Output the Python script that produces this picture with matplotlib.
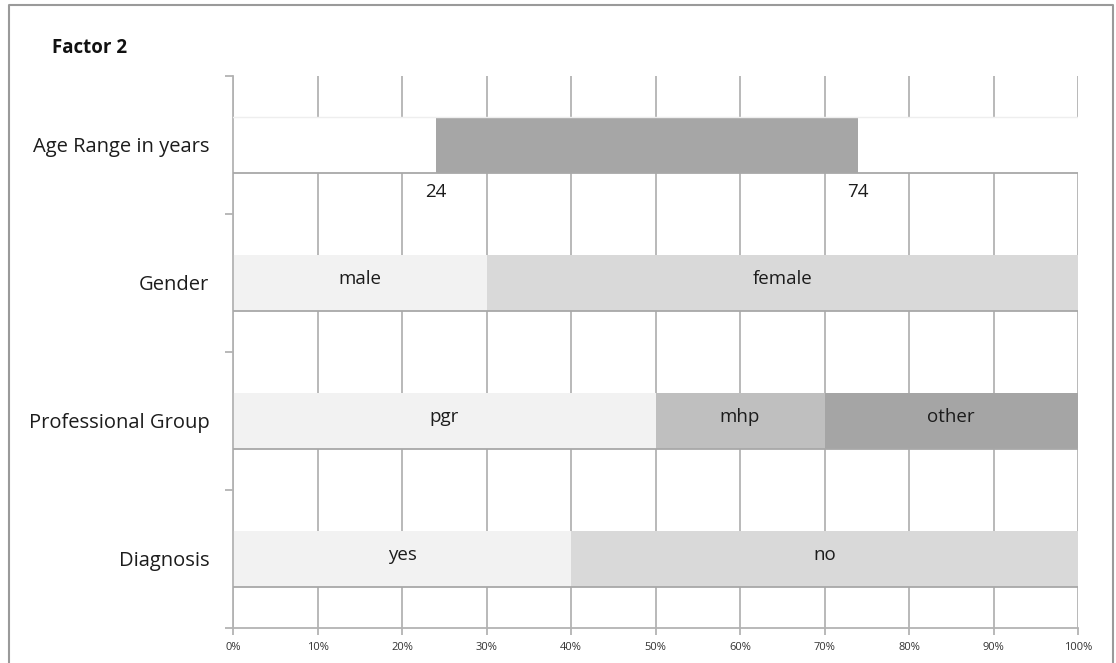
import numpy as np
import matplotlib.pyplot as plt
from matplotlib.lines import Line2D

plt.rcParams['font.family'] = ['Open Sans', 'DejaVu Sans']

categories = ['Age Range in years', 'Gender', 'Professional Group', 'Diagnosis']
age_range = [24, 74]
gender_labels = ['male', 'female']
gender_values = [30, 70]
prof_labels = ['pgr', 'mhp', 'other']
prof_values = [50, 20, 30]
diag_labels = ['yes', 'no']
diag_values = [40, 60]

shade = {'male': '#f2f2f2', 'female': '#d9d9d9', 'pgr': '#f2f2f2', 'mhp': '#bfbfbf',
         'other': '#a5a5a5', 'yes': '#f2f2f2', 'no': '#d9d9d9'}

fig = plt.figure(figsize=(11.16, 6.63), dpi=100)
ax = fig.add_axes([0.2088, 0.0528, 0.7572, 0.8326])

ypos = [3.5, 2.5, 1.5, 0.5]
h = 0.4
grey = '#b3b3b3'
ink = '#1c1c1c'

ax.set_xlim(0, 100)
ax.set_ylim(0, 4)
ax.set_xticks(np.arange(0, 101, 10))
ax.set_xticklabels([f'{v}%' for v in range(0, 101, 10)], fontsize=8, color='#333333')
ax.grid(axis='x', color=grey, lw=1.3)
ax.set_axisbelow(True)

# stacked segments with labels
def stacked(y, labels, values):
    left = 0
    for lab, v in zip(labels, values):
        ax.barh(y, v, left=left, height=h, color=shade[lab], zorder=2)
        ax.text(left + v / 2, y + 0.03, lab, ha='center', va='center', fontsize=13.5, color=ink, zorder=4)
        left += v
    ax.plot([0, 100], [y - h / 2, y - h / 2], color='#a8a8a8', lw=1.3, zorder=3)

# age range row: white filler around the grey span
ay = ypos[0]
ax.barh(ay, 100, height=h, color='white', zorder=2)
ax.barh(ay, age_range[1] - age_range[0], left=age_range[0], height=h, color='#a6a6a6', zorder=2)
ax.plot([0, 100], [ay + h / 2, ay + h / 2], color='#eeeeee', lw=1, zorder=3)
ax.plot([0, 100], [ay - h / 2, ay - h / 2], color='#a8a8a8', lw=1.3, zorder=3)
for v in age_range:
    ax.text(v, ay - h / 2 - 0.14, str(v), ha='center', va='center', fontsize=13.5, color=ink)

stacked(ypos[1], gender_labels, gender_values)
stacked(ypos[2], prof_labels, prof_values)
stacked(ypos[3], diag_labels, diag_values)

ax.set_yticks(ypos)
ax.set_yticklabels(categories, fontsize=14.5, color=ink)
ax.tick_params(axis='y', length=0, pad=17)
ax.set_yticks([0, 1, 2, 3, 4], minor=True)
ax.tick_params(axis='y', which='minor', length=6, color=grey, width=1.3)
ax.tick_params(axis='x', length=5, color=grey, width=1.3, pad=5)

for s in ['top', 'right']:
    ax.spines[s].set_visible(False)
for s in ['left', 'bottom']:
    ax.spines[s].set_color(grey)
    ax.spines[s].set_linewidth(1.3)

fig.text(0.047, 0.928, 'Factor 2', fontsize=13.5, fontweight='bold', color='#111111', va='center')

# outer frame
fx = [9 / 1116, 9 / 1116, 1113 / 1116, 1113 / 1116]
fy = [-0.1, 1 - 5 / 663, 1 - 5 / 663, -0.1]
fig.add_artist(Line2D(fx, fy, color='#9a9a9a', lw=1.5, transform=fig.transFigure))

fig.savefig('out.png', dpi=100)
